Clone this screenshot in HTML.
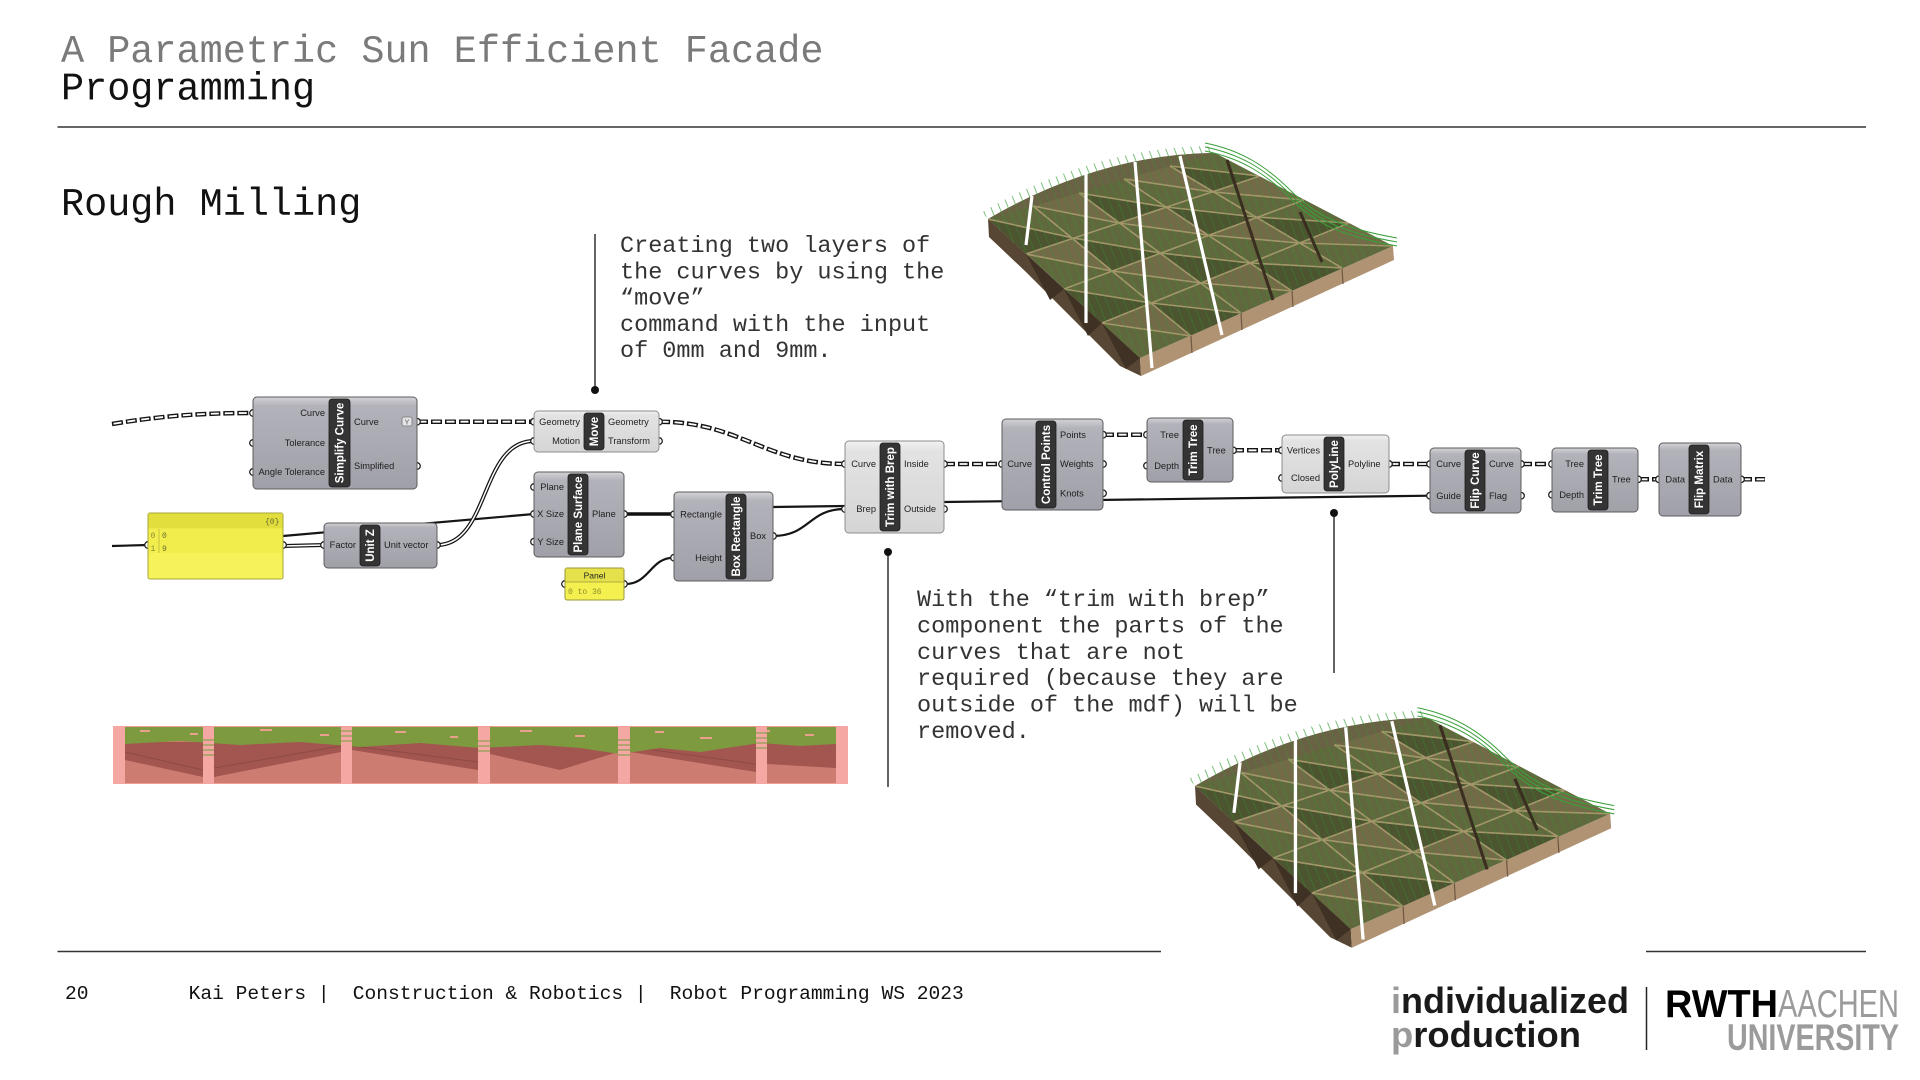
<!DOCTYPE html>
<html><head><meta charset="utf-8">
<style>
html,body{margin:0;padding:0;background:#fff;width:1920px;height:1080px;overflow:hidden}
svg{display:block}
.mono{font-family:"Liberation Mono",monospace}
.pl{font-family:"Liberation Sans",sans-serif;font-size:9.3px;fill:#1e1e1e}
.pe{text-anchor:end}
.sl{font-family:"Liberation Sans",sans-serif;font-size:11.5px;font-weight:bold;fill:#fff;text-anchor:middle}
.nd{fill:url(#gd);stroke:#5c5c5c;stroke-width:1}
.nl{fill:url(#gl);stroke:#8c8c8c;stroke-width:1}
.st{fill:#343434;stroke:#1c1c1c;stroke-width:0.8}
.pt{fill:#fff;stroke:#222;stroke-width:1.3}
.tw{fill:none;stroke:#151515;stroke-width:4.5;stroke-dasharray:11 3}
.tw2{fill:none;stroke:#fff;stroke-width:1.8;stroke-dasharray:8 6;stroke-dashoffset:-1.5}
.sw{fill:none;stroke:#151515;stroke-width:2.2}
.ann{font-family:"Liberation Mono",monospace;font-size:23.5px;fill:#333}
.ft{font-family:"Liberation Mono",monospace;font-size:19.6px;fill:#111}
</style></head>
<body>
<svg width="1920" height="1080" viewBox="0 0 1920 1080" xmlns="http://www.w3.org/2000/svg">
<defs>
  <linearGradient id="gd" x1="0" y1="0" x2="0" y2="1">
    <stop offset="0" stop-color="#d2d2d6"/>
    <stop offset="0.1" stop-color="#b2b2ba"/>
    <stop offset="1" stop-color="#a0a0a9"/>
  </linearGradient>
  <linearGradient id="gl" x1="0" y1="0" x2="0" y2="1">
    <stop offset="0" stop-color="#f2f2f2"/>
    <stop offset="0.1" stop-color="#e3e3e3"/>
    <stop offset="1" stop-color="#d5d5d5"/>
  </linearGradient>
  <pattern id="hatch" patternUnits="userSpaceOnUse" width="8" height="8" patternTransform="rotate(-22)">
    <line x1="1" y1="0" x2="1" y2="8" stroke="#2f9a2f" stroke-width="0.9"/>
  </pattern>
  <clipPath id="fclip"><path d="M988,219 Q1100,154 1215,153 L1393,246 L1140,358 Z"/></clipPath>
</defs>

<!-- Header -->
<text class="mono" x="61" y="62" font-size="38.5" fill="#7a7a7a">A Parametric Sun Efficient Facade</text>
<text class="mono" x="61" y="99.5" font-size="38.5" fill="#111">Programming</text>
<line x1="57.5" y1="127" x2="1866" y2="127" stroke="#333" stroke-width="1.6"/>
<text class="mono" x="61" y="215" font-size="38.5" fill="#111">Rough Milling</text>

<!-- Annotation 1 -->
<line x1="595" y1="234" x2="595" y2="390" stroke="#222" stroke-width="1.4"/>
<circle cx="595" cy="390" r="4" fill="#111"/>
<text class="ann" x="620" y="252">Creating two layers of</text>
<text class="ann" x="620" y="278.3">the curves by using the</text>
<text class="ann" x="620" y="304.6">“move”</text>
<text class="ann" x="620" y="330.9">command with the input</text>
<text class="ann" x="620" y="357.2">of 0mm and 9mm.</text>

<!-- Annotation 2 -->
<line x1="888" y1="552" x2="888" y2="787" stroke="#222" stroke-width="1.4"/>
<circle cx="888" cy="552" r="4" fill="#111"/>
<text class="ann" x="917" y="606">With the “trim with brep”</text>
<text class="ann" x="917" y="632.4">component the parts of the</text>
<text class="ann" x="917" y="658.8">curves that are not</text>
<text class="ann" x="917" y="685.2">required (because they are</text>
<text class="ann" x="917" y="711.6">outside of the mdf) will be</text>
<text class="ann" x="917" y="738">removed.</text>

<!-- Annotation 3 line -->
<line x1="1334" y1="513" x2="1334" y2="673" stroke="#222" stroke-width="1.4"/>
<circle cx="1334" cy="513" r="4" fill="#111"/>

<!-- ============ WIRES ============ -->
<g>
  <path class="sw" d="M112,546 L148,545"/>
  <path class="sw" d="M283,536 L534,514"/>
  <path class="sw" d="M773,507 L845,506"/>
  <path class="sw" d="M944,502 L1430,495.7"/>
  <path class="sw" d="M625,584 C650,584 650,557.7 674,557.7"/>
  <path class="sw" d="M773,536 C810,536 808,509 845,509"/>
  <path fill="none" stroke="#111" stroke-width="3.4" d="M624,514 L674,514"/>
  <path fill="none" stroke="#151515" stroke-width="4" d="M283,546 L324,545"/>
  <path fill="none" stroke="#fff" stroke-width="1.5" d="M283,546 L324,545"/>
  <path fill="none" stroke="#151515" stroke-width="4" d="M437,545 C490,545 480,441 534,441"/>
  <path fill="none" stroke="#fff" stroke-width="1.5" d="M437,545 C490,545 480,441 534,441"/>
  <path class="tw" d="M112,424 C160,416 200,413 253,413"/>
  <path class="tw2" d="M112,424 C160,416 200,413 253,413"/>
  <path class="tw" d="M417,421.7 L534,421.7"/>
  <path class="tw2" d="M417,421.7 L534,421.7"/>
  <path class="tw" d="M659,421.7 C740,421.7 765,464 845,464"/>
  <path class="tw2" d="M659,421.7 C740,421.7 765,464 845,464"/>
  <path class="tw" d="M944,464 L1002,464"/>
  <path class="tw2" d="M944,464 L1002,464"/>
  <path class="tw" d="M1103,434.7 L1147,434.7"/>
  <path class="tw2" d="M1103,434.7 L1147,434.7"/>
  <path class="tw" d="M1233,450.3 L1282,450.3"/>
  <path class="tw2" d="M1233,450.3 L1282,450.3"/>
  <path class="tw" d="M1389,464 L1430,464"/>
  <path class="tw2" d="M1389,464 L1430,464"/>
  <path class="tw" d="M1521,464 L1552,464"/>
  <path class="tw2" d="M1521,464 L1552,464"/>
  <path class="tw" d="M1638,479.3 L1659,479.3"/>
  <path class="tw2" d="M1638,479.3 L1659,479.3"/>
  <path class="tw" d="M1741,479.3 L1765,479.3"/>
  <path class="tw2" d="M1741,479.3 L1765,479.3"/>
</g>

<!-- ============ PORTS ============ -->
<g>
  <circle class="pt" cx="253" cy="413" r="3.3"/><circle class="pt" cx="253" cy="443" r="3.3"/><circle class="pt" cx="253" cy="472" r="3.3"/>
  <circle class="pt" cx="417" cy="421.7" r="3.3"/><circle class="pt" cx="417" cy="466" r="3.3"/>
  <circle class="pt" cx="148" cy="545" r="3.3"/><circle class="pt" cx="283" cy="545" r="3.3"/>
  <circle class="pt" cx="324" cy="545" r="3.3"/><circle class="pt" cx="437" cy="545" r="3.3"/>
  <circle class="pt" cx="534" cy="421.7" r="3.3"/><circle class="pt" cx="534" cy="441" r="3.3"/>
  <circle class="pt" cx="659" cy="421.7" r="3.3"/><circle class="pt" cx="659" cy="441" r="3.3"/>
  <circle class="pt" cx="534" cy="487" r="3.3"/><circle class="pt" cx="534" cy="514" r="3.3"/><circle class="pt" cx="534" cy="541.7" r="3.3"/>
  <circle class="pt" cx="624" cy="514" r="3.3"/>
  <circle class="pt" cx="565" cy="584" r="3.3"/><circle class="pt" cx="624" cy="584" r="3.3"/>
  <circle class="pt" cx="674" cy="514.3" r="3.3"/><circle class="pt" cx="674" cy="557.7" r="3.3"/><circle class="pt" cx="773" cy="536" r="3.3"/>
  <circle class="pt" cx="845" cy="464" r="3.3"/><circle class="pt" cx="845" cy="509" r="3.3"/>
  <circle class="pt" cx="944" cy="464" r="3.3"/><circle class="pt" cx="944" cy="509" r="3.3"/>
  <circle class="pt" cx="1002" cy="464" r="3.3"/>
  <circle class="pt" cx="1103" cy="434.7" r="3.3"/><circle class="pt" cx="1103" cy="464" r="3.3"/><circle class="pt" cx="1103" cy="493.3" r="3.3"/>
  <circle class="pt" cx="1147" cy="434.7" r="3.3"/><circle class="pt" cx="1147" cy="465.7" r="3.3"/><circle class="pt" cx="1233" cy="450.3" r="3.3"/>
  <circle class="pt" cx="1282" cy="450.3" r="3.3"/><circle class="pt" cx="1282" cy="478" r="3.3"/><circle class="pt" cx="1389" cy="464" r="3.3"/>
  <circle class="pt" cx="1430" cy="464" r="3.3"/><circle class="pt" cx="1430" cy="495.7" r="3.3"/>
  <circle class="pt" cx="1521" cy="464" r="3.3"/><circle class="pt" cx="1521" cy="495.7" r="3.3"/>
  <circle class="pt" cx="1552" cy="464" r="3.3"/><circle class="pt" cx="1552" cy="494.7" r="3.3"/><circle class="pt" cx="1638" cy="479.3" r="3.3"/>
  <circle class="pt" cx="1659" cy="479.3" r="3.3"/><circle class="pt" cx="1741" cy="479.3" r="3.3"/>
</g>

<!-- ============ NODES ============ -->
<rect class="nd" x="253" y="397" width="164" height="92" rx="4"/>
<rect class="st" x="329" y="399" width="21" height="88" rx="3"/>
<text class="sl" transform="translate(339.5,443) rotate(-90)" y="4">Simplify Curve</text>
<text class="pl pe" x="325" y="416.2">Curve</text>
<text class="pl pe" x="325" y="446.2">Tolerance</text>
<text class="pl pe" x="325" y="475.2">Angle Tolerance</text>
<text class="pl" x="354" y="424.9">Curve</text>
<text class="pl" x="354" y="469.2">Simplified</text>
<rect x="402" y="417" width="10" height="9" rx="2" fill="#e4e4e4" stroke="#777" stroke-width="0.8"/>
<text x="407" y="424.5" font-size="7" text-anchor="middle" fill="#555" font-family="Liberation Sans">Y</text>

<rect x="148" y="513" width="135" height="66" fill="#f6f35a" stroke="#a8a53a" stroke-width="1" rx="2"/>
<rect x="148.5" y="513.5" width="134" height="15" fill="#e2de3e"/>
<rect x="148.5" y="529" width="134" height="24" fill="#f0ed4c"/>
<line x1="159" y1="529" x2="159" y2="553" stroke="#c8c440" stroke-width="1"/>
<text x="265" y="524" font-family="Liberation Mono" font-size="8" fill="#6a6a30">{0}</text>
<text x="150.5" y="538" font-family="Liberation Mono" font-size="8" fill="#8a8a3a">0</text>
<text x="162" y="538" font-family="Liberation Mono" font-size="8" fill="#6a6a30">0</text>
<text x="150.5" y="551" font-family="Liberation Mono" font-size="8" fill="#8a8a3a">1</text>
<text x="162" y="551" font-family="Liberation Mono" font-size="8" fill="#6a6a30">9</text>

<rect class="nd" x="324" y="523" width="113" height="45" rx="4"/>
<rect class="st" x="360" y="525" width="20" height="41" rx="3"/>
<text class="sl" transform="translate(370,545.5) rotate(-90)" y="4">Unit Z</text>
<text class="pl pe" x="356" y="548.2">Factor</text>
<text class="pl" x="384" y="548.2">Unit vector</text>

<rect class="nl" x="534" y="411" width="125" height="41" rx="4"/>
<rect class="st" x="584" y="413" width="20" height="37" rx="3"/>
<text class="sl" transform="translate(594,431.5) rotate(-90)" y="4">Move</text>
<text class="pl pe" x="580" y="424.9">Geometry</text>
<text class="pl pe" x="580" y="444.2">Motion</text>
<text class="pl" x="608" y="424.9">Geometry</text>
<text class="pl" x="608" y="444.2">Transform</text>

<rect class="nd" x="534" y="472" width="90" height="85" rx="4"/>
<rect class="st" x="568" y="474" width="20" height="81" rx="3"/>
<text class="sl" transform="translate(578,514.5) rotate(-90)" y="4">Plane Surface</text>
<text class="pl pe" x="564" y="490.2">Plane</text>
<text class="pl pe" x="564" y="517.2">X Size</text>
<text class="pl pe" x="564" y="544.9">Y Size</text>
<text class="pl" x="592" y="517.2">Plane</text>

<rect x="565" y="568" width="59" height="32" rx="2" fill="#f3f050" stroke="#9a973a" stroke-width="1"/>
<rect x="565.5" y="568.5" width="58" height="13.5" fill="#e4e14a"/>
<line x1="565" y1="582" x2="624" y2="582" stroke="#9a973a" stroke-width="0.8"/>
<text x="594.5" y="578.5" font-family="Liberation Sans" font-size="8.5" text-anchor="middle" fill="#222">Panel</text>
<text x="568" y="594" font-family="Liberation Mono" font-size="8" fill="#8f8b2c">0 to 36</text>

<rect class="nd" x="674" y="492" width="99" height="89" rx="4"/>
<rect class="st" x="726" y="494" width="20" height="85" rx="3"/>
<text class="sl" transform="translate(736,536.5) rotate(-90)" y="4">Box Rectangle</text>
<text class="pl pe" x="722" y="517.5">Rectangle</text>
<text class="pl pe" x="722" y="560.9">Height</text>
<text class="pl" x="750" y="539.2">Box</text>

<rect class="nl" x="845" y="441" width="99" height="92" rx="4"/>
<rect class="st" x="880" y="443" width="20" height="88" rx="3"/>
<text class="sl" transform="translate(890,487) rotate(-90)" y="4">Trim with Brep</text>
<text class="pl pe" x="876" y="467.2">Curve</text>
<text class="pl pe" x="876" y="512.2">Brep</text>
<text class="pl" x="904" y="467.2">Inside</text>
<text class="pl" x="904" y="512.2">Outside</text>

<rect class="nd" x="1002" y="419" width="101" height="91" rx="4"/>
<rect class="st" x="1036" y="421" width="20" height="87" rx="3"/>
<text class="sl" transform="translate(1046,464.5) rotate(-90)" y="4">Control Points</text>
<text class="pl pe" x="1032" y="467.2">Curve</text>
<text class="pl" x="1060" y="437.9">Points</text>
<text class="pl" x="1060" y="467.2">Weights</text>
<text class="pl" x="1060" y="496.5">Knots</text>

<rect class="nd" x="1147" y="418" width="86" height="64" rx="4"/>
<rect class="st" x="1183" y="420" width="20" height="60" rx="3"/>
<text class="sl" transform="translate(1193,450) rotate(-90)" y="4">Trim Tree</text>
<text class="pl pe" x="1179" y="437.9">Tree</text>
<text class="pl pe" x="1179" y="468.9">Depth</text>
<text class="pl" x="1207" y="453.5">Tree</text>

<rect class="nl" x="1282" y="435" width="107" height="58" rx="4"/>
<rect class="st" x="1324" y="437" width="20" height="54" rx="3"/>
<text class="sl" transform="translate(1334,464) rotate(-90)" y="4">PolyLine</text>
<text class="pl pe" x="1320" y="453.5">Vertices</text>
<text class="pl pe" x="1320" y="481.2">Closed</text>
<text class="pl" x="1348" y="467.2">Polyline</text>

<rect class="nd" x="1430" y="448" width="91" height="65" rx="4"/>
<rect class="st" x="1465" y="450" width="20" height="61" rx="3"/>
<text class="sl" transform="translate(1475,480.5) rotate(-90)" y="4">Flip Curve</text>
<text class="pl pe" x="1461" y="467.2">Curve</text>
<text class="pl pe" x="1461" y="498.9">Guide</text>
<text class="pl" x="1489" y="467.2">Curve</text>
<text class="pl" x="1489" y="498.9">Flag</text>

<rect class="nd" x="1552" y="448" width="86" height="64" rx="4"/>
<rect class="st" x="1588" y="450" width="20" height="60" rx="3"/>
<text class="sl" transform="translate(1598,480) rotate(-90)" y="4">Trim Tree</text>
<text class="pl pe" x="1584" y="467.2">Tree</text>
<text class="pl pe" x="1584" y="497.9">Depth</text>
<text class="pl" x="1612" y="482.5">Tree</text>

<rect class="nd" x="1659" y="443" width="82" height="73" rx="4"/>
<rect class="st" x="1689" y="445" width="20" height="69" rx="3"/>
<text class="sl" transform="translate(1699,479.5) rotate(-90)" y="4">Flip Matrix</text>
<text class="pl pe" x="1685" y="482.5">Data</text>
<text class="pl" x="1713" y="482.5">Data</text>

<!-- ============ 3D FACADE RENDER (top) ============ -->
<g id="fac">
  <polygon points="988,219 1140,358 1141,376 1120,366 1026,272 989,237" fill="#584634"/>
  <g fill="#3f3124">
    <polygon points="1026,254 1064,289 1050,300"/>
    <polygon points="1064,289 1102,323 1088,336"/>
    <polygon points="1102,323 1140,358 1126,369"/>
  </g>
  <polygon points="1140,358 1393,246 1394,260 1141,376" fill="#b09373"/>
  <g stroke="#6f5843" stroke-width="1.2">
    <line x1="1191" y1="336" x2="1192" y2="353"/>
    <line x1="1241" y1="313" x2="1242" y2="330"/>
    <line x1="1292" y1="291" x2="1293" y2="307"/>
    <line x1="1342" y1="268" x2="1343" y2="284"/>
  </g>
  <path d="M988,219 Q1100,154 1215,153 L1393,246 L1140,358 Z" fill="#61683d"/>
  <g clip-path="url(#fclip)">
    <g fill="#4c5430">
      <polygon points="988,219 1026,254 1073,238"/>
      <polygon points="1079,193 1119,223 1166,207"/>
      <polygon points="1170,166 1213,192 1260,176"/>
      <polygon points="1073,238 1112,271 1160,253"/>
      <polygon points="1166,207 1208,235 1256,217"/>
      <polygon points="1064,289 1102,323 1151,303"/>
      <polygon points="1160,253 1201,283 1250,263"/>
      <polygon points="1256,217 1299,243 1349,223"/>
      <polygon points="1151,303 1191,336 1241,313"/>
      <polygon points="1250,263 1292,291 1342,268"/>
    </g>
    <g fill="#736a48">
      <polygon points="1033,206 1079,193 1119,223"/>
      <polygon points="1124,179 1170,166 1213,192"/>
      <polygon points="1026,254 1073,238 1112,271"/>
      <polygon points="1119,223 1166,207 1208,235"/>
      <polygon points="1213,192 1260,176 1304,200"/>
      <polygon points="1112,271 1160,253 1201,283"/>
      <polygon points="1208,235 1256,217 1299,243"/>
      <polygon points="1102,323 1151,303 1191,336"/>
      <polygon points="1201,283 1250,263 1292,291"/>
      <polygon points="1299,243 1349,223 1393,246"/>
    </g>
    <polygon points="1000,190 1215,140 1215,153 1033,206 988,219" fill="#6a6244"/>
    <g stroke="#a6966c" stroke-width="1.6" fill="none">
      <line x1="1033" y1="206" x2="1191" y2="336"/>
      <line x1="1079" y1="193" x2="1241" y2="313"/>
      <line x1="1124" y1="179" x2="1292" y2="291"/>
      <line x1="1170" y1="166" x2="1342" y2="268"/>
      <line x1="1026" y1="254" x2="1260" y2="176"/>
      <line x1="1064" y1="289" x2="1304" y2="200"/>
      <line x1="1102" y1="323" x2="1349" y2="223"/>
      <polyline points="988,219 1073,238 1160,253 1250,263 1342,268"/>
      <polyline points="1033,206 1119,223 1208,235 1299,243 1393,246"/>
      <polyline points="1079,193 1166,207 1256,217 1349,223"/>
      <polyline points="1124,179 1213,192 1304,200"/>
      <polyline points="1170,166 1260,176"/>
      <polyline points="1026,254 1112,271 1201,283 1292,291"/>
      <polyline points="1064,289 1151,303 1241,313"/>
      <polyline points="1102,323 1191,336"/>
    </g>
    <path d="M980,140 L1400,140 L1400,380 L980,380 Z" fill="url(#hatch)" opacity="0.4"/>
  </g>
  <path d="M982,212 Q1097,146 1213,146 L1215,153 Q1100,154 988,219 Z" fill="url(#hatch)" opacity="0.7"/>
  <g stroke="#ffffff" stroke-width="3.2" fill="none">
    <line x1="1032" y1="196" x2="1026" y2="245"/>
    <line x1="1086" y1="174" x2="1086" y2="323"/>
    <line x1="1135" y1="162" x2="1152" y2="368"/>
    <line x1="1180" y1="156" x2="1222" y2="335"/>
  </g>
  <g stroke="#3a2e20" stroke-width="3" fill="none">
    <line x1="1227" y1="160" x2="1273" y2="300"/>
    <line x1="1300" y1="212" x2="1322" y2="262"/>
  </g>
  <g stroke="#3aa03a" stroke-width="1" fill="none">
    <path d="M1205,143 C1240,150 1265,165 1290,190 S1340,228 1397,238"/>
    <path d="M1205,147 C1240,154 1265,169 1290,194 S1340,232 1397,242"/>
    <path d="M1205,151 C1240,158 1265,173 1290,198 S1340,236 1397,246"/>
  </g>
</g>

<!-- ============ 3D FACADE RENDER (bottom) ============ -->
<use href="#fac" transform="translate(1195,786) scale(1.025,1.03) translate(-988,-219)"/>

<!-- ============ BOTTOM STRIP ============ -->
<g>
  <rect x="113" y="726" width="735" height="58" fill="#f29c98"/>
  <rect x="125" y="727" width="711" height="56" fill="#cd7c71"/>
  <polygon points="125,742 203,742 203,777 125,760" fill="#a2564f"/>
  <polygon points="214,742 341,742 341,752 214,777" fill="#a2564f"/>
  <polygon points="352,742 478,742 478,770 352,750" fill="#a2564f"/>
  <polygon points="490,742 618,742 618,752 560,770 490,754" fill="#a2564f"/>
  <polygon points="630,742 756,742 756,772 630,752" fill="#a2564f"/>
  <polygon points="767,742 836,742 836,768 767,764" fill="#a2564f"/>
  <g stroke="#8f4a45" stroke-width="1" fill="none">
    <line x1="125" y1="752" x2="203" y2="770"/>
    <line x1="214" y1="768" x2="341" y2="746"/>
    <line x1="352" y1="746" x2="478" y2="762"/>
    <line x1="630" y1="747" x2="756" y2="764"/>
  </g>
  <polygon points="125,727 836,727 836,744 800,746 760,743 700,752 660,748 620,754 580,748 540,745 480,748 420,743 360,747 300,742 240,745 180,741 125,744" fill="#7d9a3e"/>
  <g fill="#e9a08f">
    <rect x="140" y="730" width="10" height="2"/><rect x="190" y="733" width="8" height="2"/>
    <rect x="260" y="729" width="12" height="2"/><rect x="320" y="734" width="9" height="2"/>
    <rect x="395" y="731" width="11" height="2"/><rect x="450" y="736" width="8" height="2"/>
    <rect x="520" y="730" width="12" height="2"/><rect x="575" y="735" width="10" height="2"/>
    <rect x="655" y="731" width="9" height="2"/><rect x="700" y="737" width="12" height="2"/>
    <rect x="760" y="730" width="10" height="2"/><rect x="805" y="734" width="9" height="2"/>
  </g>
  <g fill="#f5a7a3">
    <rect x="203" y="727" width="11" height="57"/>
    <rect x="341" y="727" width="11" height="57"/>
    <rect x="478" y="727" width="12" height="57"/>
    <rect x="618" y="727" width="12" height="57"/>
    <rect x="756" y="727" width="11" height="57"/>
    <rect x="113" y="726" width="12" height="58"/>
    <rect x="836" y="726" width="12" height="58"/>
  </g>
  <g stroke="#8aa050" stroke-width="1.2">
    <line x1="203" y1="740" x2="214" y2="740"/><line x1="203" y1="745" x2="214" y2="745"/><line x1="203" y1="750" x2="214" y2="750"/><line x1="203" y1="755" x2="214" y2="755"/>
    <line x1="341" y1="731" x2="352" y2="731"/><line x1="341" y1="736" x2="352" y2="736"/><line x1="341" y1="741" x2="352" y2="741"/>
    <line x1="478" y1="741" x2="490" y2="741"/><line x1="478" y1="746" x2="490" y2="746"/><line x1="478" y1="751" x2="490" y2="751"/>
    <line x1="618" y1="740" x2="630" y2="740"/><line x1="618" y1="745" x2="630" y2="745"/><line x1="618" y1="750" x2="630" y2="750"/><line x1="618" y1="755" x2="630" y2="755"/>
    <line x1="756" y1="733" x2="767" y2="733"/><line x1="756" y1="738" x2="767" y2="738"/><line x1="756" y1="743" x2="767" y2="743"/><line x1="756" y1="748" x2="767" y2="748"/>
  </g>
</g>

<!-- ============ FOOTER ============ -->
<line x1="57.5" y1="951.5" x2="1161" y2="951.5" stroke="#333" stroke-width="1.6"/>
<line x1="1646" y1="951.5" x2="1866" y2="951.5" stroke="#333" stroke-width="1.6"/>
<text class="ft" x="65" y="999">20</text>
<text class="ft" x="188.6" y="999">Kai Peters |</text>
<text class="ft" x="352.7" y="999">Construction &amp; Robotics |</text>
<text class="ft" x="669.8" y="999">Robot Programming WS 2023</text>

<text x="1391" y="1013" font-family="Liberation Sans, sans-serif" font-weight="bold" font-size="36" textLength="238" lengthAdjust="spacingAndGlyphs"><tspan fill="#9a9a9a">i</tspan><tspan fill="#1a1a1a">ndividualized</tspan></text>
<text x="1391" y="1047" font-family="Liberation Sans, sans-serif" font-weight="bold" font-size="36" textLength="190" lengthAdjust="spacingAndGlyphs"><tspan fill="#9a9a9a">p</tspan><tspan fill="#1a1a1a">roduction</tspan></text>
<line x1="1646.5" y1="987" x2="1646.5" y2="1050" stroke="#222" stroke-width="1.5"/>
<text x="1665" y="1017" font-family="Liberation Sans, sans-serif" font-weight="bold" font-size="39" fill="#000" textLength="113" lengthAdjust="spacingAndGlyphs">RWTH</text>
<text x="1778" y="1017" font-family="Liberation Sans, sans-serif" font-size="39" fill="#9b9b9b" textLength="121" lengthAdjust="spacingAndGlyphs">AACHEN</text>
<text x="1727" y="1050" font-family="Liberation Sans, sans-serif" font-weight="bold" font-size="37" fill="#9b9b9b" textLength="172" lengthAdjust="spacingAndGlyphs">UNIVERSITY</text>
</svg>
</body></html>
